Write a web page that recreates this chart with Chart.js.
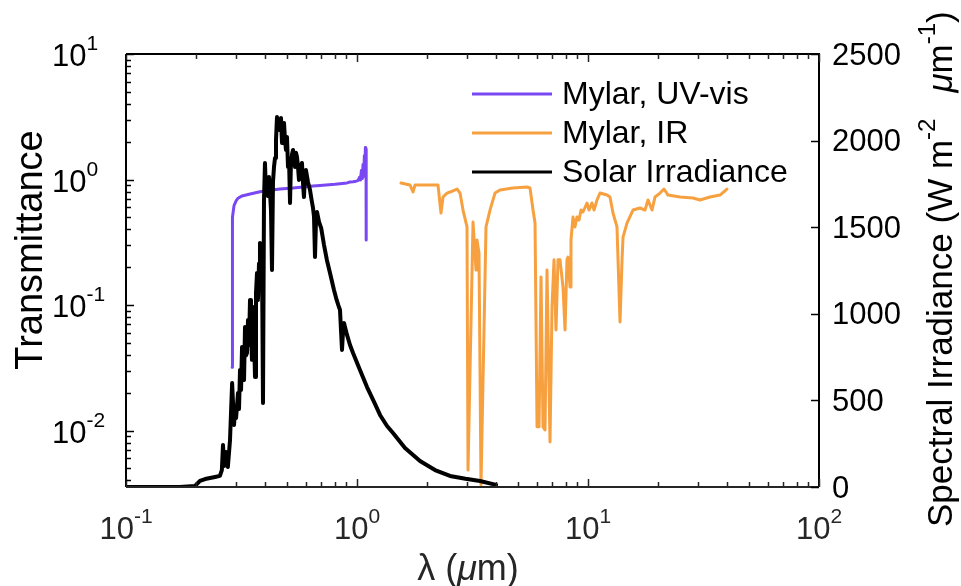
<!DOCTYPE html>
<html>
<head>
<meta charset="utf-8">
<script src="https://cdn.jsdelivr.net/npm/chart.js@4/dist/chart.umd.min.js"></script>
<style>
  html, body { margin: 0; padding: 0; background: #ffffff; }
  canvas { display: block; }
</style>
</head>
<body>
<canvas id="chart" width="961" height="586"></canvas>
<script>
// Solar spectral irradiance (W m^-2 um^-1) against wavelength (um)
const solarWavelength = [
  0.100, 0.127, 0.171, 0.199, 0.209, 0.220, 0.231, 0.243, 0.255, 0.260,
  0.263, 0.266, 0.271, 0.276, 0.282, 0.288, 0.2935, 0.2965, 0.2995, 0.3025,
  0.3054, 0.3085, 0.3116, 0.3148, 0.3179, 0.3211, 0.3243, 0.3275, 0.3307, 0.3340,
  0.3374, 0.3408, 0.3442, 0.3476, 0.3510, 0.3546, 0.3582, 0.3618, 0.3654, 0.3691,
  0.3727, 0.3765, 0.3802, 0.3840, 0.3879, 0.3918, 0.3957, 0.3996, 0.4036, 0.4077,
  0.4118, 0.4159, 0.4201, 0.4243, 0.4285, 0.4328, 0.4372, 0.4416, 0.4460, 0.4505,
  0.4550, 0.4597, 0.4642, 0.4688, 0.4735, 0.4783, 0.4831, 0.4880, 0.4928, 0.4977,
  0.5027, 0.5078, 0.5129, 0.5180, 0.5230, 0.5284, 0.5337, 0.5390, 0.5444, 0.5498,
  0.5553, 0.5608, 0.5663, 0.5777, 0.5835, 0.5893, 0.5952, 0.6011, 0.6136, 0.6261,
  0.6355, 0.6451, 0.6515, 0.6579, 0.6645, 0.6711, 0.6850, 0.6998, 0.7199, 0.7406,
  0.7641, 0.7950, 0.8163, 0.8300, 0.8442, 0.8530, 0.8612, 0.8700, 0.8784, 0.9053,
  0.9327, 0.9613, 1.030, 1.105, 1.185, 1.258, 1.349, 1.432, 1.614, 1.874,
  2.176, 2.527, 2.950, 3.408, 4.000
];
const solarIrradiance = [
  0, 0, 0, 6, 35, 46, 52, 58, 64, 98,
  243, 121, 202, 115, 271, 600, 358, 445, 398, 470,
  543, 450, 676, 560, 808, 700, 618, 924, 760, 774,
  964, 820, 1080, 900, 734, 1039, 880, 635, 1120, 1236,
  1080, 1290, 1409, 1200, 1311, 485, 1657, 1871, 1700, 1755,
  1680, 1790, 1700, 1599, 1253, 1760, 1848, 1900, 2004, 2136,
  2080, 2119, 2060, 2131, 1986, 2060, 2102, 2000, 1946, 2021,
  1848, 1900, 1640, 1888, 1920, 1946, 1880, 1848, 1930, 1905,
  1850, 1773, 1840, 1871, 1760, 1674, 1790, 1830, 1760, 1715,
  1660, 1611, 1560, 1328, 1540, 1588, 1530, 1495, 1397, 1311,
  1236, 1137, 1080, 1050, 1022, 900, 791, 900, 947, 878,
  820, 774, 676, 577, 491, 416, 352, 312, 225, 150,
  98, 64, 48, 35, 12
];

// Mylar film transmittance, UV-visible range
const uvWavelength = [
  0.2880, 0.2885, 0.2895, 0.2935, 0.3000, 0.3054, 0.3179, 0.3374, 0.3800, 0.4201,
  0.4642, 0.5284, 0.6011, 0.6451, 0.6918, 0.8030, 0.9053, 0.9327, 0.9613, 0.9900,
  1.0100, 1.0250, 1.0350, 1.0450, 1.0550, 1.0620, 1.0700, 1.0760, 1.0820, 1.0870,
  1.0910, 1.0940, 1.0960
];
const uvTransmittance = [
  0.032, 0.20, 0.50, 0.62, 0.68, 0.71, 0.74, 0.76, 0.80, 0.82,
  0.84, 0.855, 0.875, 0.887, 0.895, 0.915, 0.94, 0.955, 0.96, 0.97,
  0.98, 1.04, 0.99, 1.18, 1.02, 1.32, 1.06, 1.55, 1.12, 1.80,
  1.25, 1.75, 0.33
];

// Mylar film transmittance, infrared range
const irWavelength = [
  1.550, 1.696, 1.748, 1.783, 2.242, 2.310, 2.357, 2.453, 2.527, 2.710,
  2.793, 2.877, 2.994, 3.024, 3.179, 3.275, 3.307, 3.374, 3.442, 3.618,
  3.765, 3.957, 4.159, 4.735, 5.445, 5.611, 5.781, 5.898, 6.017, 6.138,
  6.261, 6.387, 6.515, 6.646, 6.848, 6.986, 7.127, 7.269, 7.416, 7.566,
  7.795, 7.953, 8.110, 8.190, 8.360, 8.440, 8.610, 8.780, 8.960, 9.140,
  9.330, 9.510, 9.900, 10.10, 10.40, 10.62, 10.94, 11.27, 12.09, 12.45,
  12.83, 13.35, 13.49, 13.76, 14.04, 14.18, 14.75, 15.66, 16.80, 17.65,
  18.19, 18.93, 19.50, 20.50, 21.33, 22.20, 25.02, 28.48, 30.53, 33.74,
  37.27, 39.96
];
const irTransmittance = [
  0.938, 0.904, 0.795, 0.904, 0.904, 0.541, 0.726, 0.780, 0.795, 0.840,
  0.780, 0.571, 0.419, 0.00484, 0.458, 0.190, 0.330, 0.260, 0.0037, 0.419,
  0.571, 0.780, 0.824, 0.856, 0.871, 0.856, 0.571, 0.450, 0.0107, 0.0107,
  0.167, 0.0107, 0.0101, 0.190, 0.0081, 0.0964, 0.229, 0.0633, 0.229, 0.229,
  0.139, 0.0633, 0.229, 0.241, 0.139, 0.330, 0.502, 0.419, 0.502, 0.475,
  0.571, 0.551, 0.650, 0.571, 0.650, 0.571, 0.687, 0.780, 0.752, 0.726,
  0.541, 0.419, 0.229, 0.0733, 0.229, 0.348, 0.450, 0.571, 0.593, 0.571,
  0.687, 0.571, 0.726, 0.780, 0.840, 0.752, 0.726, 0.713, 0.687, 0.726,
  0.752, 0.840
];

// Axis ticks
const xTickExponents = [-1, 0, 1, 2];
const leftTickExponents = [-2, -1, 0, 1];
const rightTickValues = [0, 500, 1000, 1500, 2000, 2500];

const seriesNames = ['Mylar, UV-vis', 'Mylar, IR', 'Solar Irradiance'];
const seriesColors = ['#7A48F3', '#F7A03F', '#000000'];

const FONT = '"Liberation Sans", Arial, Helvetica, sans-serif';
const TICK_PX = 31;
const SUP_PX = 21;
const LABEL_PX = 36;
const LEGEND_PX = 32;

const toPoints = (xs, ys) => xs.map((x, i) => ({ x: x, y: ys[i] }));

// Draws "base^exp" as two runs of text
function drawPower(ctx, base, exp, x, y, align, bigPx, smallPx, rise) {
  ctx.font = bigPx + 'px ' + FONT;
  const wb = ctx.measureText(base).width;
  ctx.font = smallPx + 'px ' + FONT;
  const we = ctx.measureText(exp).width;
  const total = wb + we;
  let x0 = x;
  if (align === 'center') x0 = x - total / 2;
  else if (align === 'right') x0 = x - total;
  ctx.textAlign = 'left';
  ctx.textBaseline = 'alphabetic';
  ctx.font = bigPx + 'px ' + FONT;
  ctx.fillText(base, x0, y);
  ctx.font = smallPx + 'px ' + FONT;
  ctx.fillText(exp, x0 + wb, y - rise);
}

// Draws a sequence of styled text runs left to right
function drawRuns(ctx, runs, x, y) {
  ctx.textAlign = 'left';
  ctx.textBaseline = 'alphabetic';
  let cx = x;
  runs.forEach(r => {
    if (r.gap) { cx += r.gap; return; }
    ctx.font = (r.italic ? 'italic ' : '') + r.px + 'px ' + FONT;
    ctx.fillText(r.text, cx, y - (r.rise || 0));
    cx += ctx.measureText(r.text).width;
  });
  return cx;
}
function runsWidth(ctx, runs) {
  let w = 0;
  runs.forEach(r => {
    if (r.gap) { w += r.gap; return; }
    ctx.font = (r.italic ? 'italic ' : '') + r.px + 'px ' + FONT;
    w += ctx.measureText(r.text).width;
  });
  return w;
}

const framePlugin = {
  id: 'frame',
  afterDatasetsDraw(chart) {
    const ctx = chart.ctx;
    const area = chart.chartArea;
    const xs = chart.scales.x, yl = chart.scales.yL, yr = chart.scales.yR;
    ctx.save();

    // box
    ctx.strokeStyle = '#000000';
    ctx.lineWidth = 2;
    ctx.beginPath();
    ctx.moveTo(area.left, area.top);
    ctx.lineTo(area.right, area.top);
    ctx.lineTo(area.right, area.bottom);
    ctx.stroke();
    ctx.beginPath();
    ctx.moveTo(area.left, area.top);
    ctx.lineTo(area.left, area.bottom);
    ctx.stroke();
    ctx.strokeStyle = '#262626';
    ctx.beginPath();
    ctx.moveTo(area.left, area.bottom);
    ctx.lineTo(area.right, area.bottom);
    ctx.stroke();

    // x ticks (bottom and top, inward)
    ctx.lineWidth = 1.5;
    ctx.strokeStyle = '#262626';
    for (let e = -1; e <= 2; e++) {
      for (let m = 1; m <= 9; m++) {
        const v = m * Math.pow(10, e);
        if (v > 100.0001) break;
        const px = Math.round(xs.getPixelForValue(v)) + 0.5;
        const len = m === 1 ? 8 : 5;
        ctx.beginPath();
        ctx.moveTo(px, area.bottom);
        ctx.lineTo(px, area.bottom - len);
        ctx.moveTo(px, area.top);
        ctx.lineTo(px, area.top + len);
        ctx.stroke();
      }
    }
    // left log ticks
    ctx.strokeStyle = '#000000';
    for (let e = -3; e <= 1; e++) {
      for (let m = 1; m <= 9; m++) {
        const v = m * Math.pow(10, e);
        if (v < yl.min || v > yl.max * 1.0001) continue;
        const py = Math.round(yl.getPixelForValue(v)) + 0.5;
        const len = m === 1 ? 8 : 5;
        ctx.beginPath();
        ctx.moveTo(area.left, py);
        ctx.lineTo(area.left + len, py);
        ctx.stroke();
      }
    }
    // right linear ticks
    rightTickValues.forEach(v => {
      const py = Math.round(yr.getPixelForValue(v)) + 0.5;
      ctx.beginPath();
      ctx.moveTo(area.right, py);
      ctx.lineTo(area.right - 8, py);
      ctx.stroke();
    });

    // x tick labels
    ctx.fillStyle = '#262626';
    xTickExponents.forEach(e => {
      const px = xs.getPixelForValue(Math.pow(10, e));
      drawPower(ctx, '10', String(e), px, area.bottom + 52, 'center', TICK_PX, SUP_PX, 16);
    });
    // left tick labels: the "10" sits in a fixed column, exponents run right
    ctx.fillStyle = '#000000';
    leftTickExponents.forEach(e => {
      const py = yl.getPixelForValue(Math.pow(10, e));
      drawPower(ctx, '10', String(e), 52, py + 12, 'left', TICK_PX, SUP_PX, 16);
    });
    // right tick labels
    ctx.font = TICK_PX + 'px ' + FONT;
    ctx.textAlign = 'left';
    ctx.textBaseline = 'middle';
    rightTickValues.forEach(v => {
      const py = yr.getPixelForValue(v);
      ctx.fillText(String(v), area.right + 13, py + 2);
    });

    // axis titles
    ctx.fillStyle = '#262626';
    const xRuns = [
      { text: '\u03BB (', px: LABEL_PX },
      { text: '\u03BC', px: LABEL_PX, italic: true },
      { text: 'm)', px: LABEL_PX }
    ];
    const xw = runsWidth(ctx, xRuns);
    drawRuns(ctx, xRuns, 468 - xw / 2, 580);

    ctx.fillStyle = '#000000';
    ctx.save();
    ctx.translate(42, 250);
    ctx.rotate(-Math.PI / 2);
    ctx.font = '38px ' + FONT;
    ctx.textAlign = 'center';
    ctx.textBaseline = 'alphabetic';
    ctx.fillText('Transmittance', 0, 0);
    ctx.restore();

    ctx.save();
    ctx.translate(952, 527);
    ctx.rotate(-Math.PI / 2);
    drawRuns(ctx, [
      { text: 'Spectral Irradiance (W m', px: 35 },
      { text: '-2', px: 24, rise: 17 },
      { gap: 26 },
      { text: '\u03BC', px: 35, italic: true },
      { text: 'm', px: 35 },
      { text: '-1', px: 24, rise: 17 },
      { text: ')', px: 35 }
    ], 0, 0);
    ctx.restore();

    // legend
    const legendRows = [94, 133, 172];
    ctx.lineWidth = 3;
    seriesNames.forEach((name, i) => {
      const y = legendRows[i];
      ctx.strokeStyle = seriesColors[i];
      ctx.beginPath();
      ctx.moveTo(472, y);
      ctx.lineTo(552, y);
      ctx.stroke();
      ctx.fillStyle = '#000000';
      ctx.font = LEGEND_PX + 'px ' + FONT;
      ctx.textAlign = 'left';
      ctx.textBaseline = 'middle';
      ctx.fillText(name, 562, y + 1);
    });

    ctx.restore();
  }
};

const lineStyle = (color, width) => ({
  borderColor: color,
  backgroundColor: color,
  borderWidth: width,
  pointRadius: 0,
  pointHoverRadius: 0,
  fill: false,
  tension: 0,
  borderJoinStyle: 'round',
  borderCapStyle: 'round'
});

new Chart(document.getElementById('chart'), {
  type: 'line',
  data: {
    datasets: [
      Object.assign({ label: seriesNames[2], data: toPoints(solarWavelength, solarIrradiance), yAxisID: 'yR' }, lineStyle(seriesColors[2], 4)),
      Object.assign({ label: seriesNames[0], data: toPoints(uvWavelength, uvTransmittance), yAxisID: 'yL' }, lineStyle(seriesColors[0], 3)),
      Object.assign({ label: seriesNames[1], data: toPoints(irWavelength, irTransmittance), yAxisID: 'yL' }, lineStyle(seriesColors[1], 3))
    ]
  },
  options: {
    responsive: false,
    animation: false,
    devicePixelRatio: 1,
    layout: { padding: { top: 54, left: 0, right: 0, bottom: 0 } },
    plugins: { legend: { display: false }, tooltip: { enabled: false } },
    scales: {
      x: {
        type: 'logarithmic', position: 'bottom', min: 0.1, max: 100,
        grid: { display: false }, border: { display: false }, ticks: { display: false },
        afterFit(s) { s.height = 99; }
      },
      yL: {
        type: 'logarithmic', position: 'left', min: 0.00355, max: 10,
        grid: { display: false }, border: { display: false }, ticks: { display: false },
        afterFit(s) { s.width = 126; }
      },
      yR: {
        type: 'linear', position: 'right', min: 0, max: 2500,
        grid: { display: false }, border: { display: false }, ticks: { display: false },
        afterFit(s) { s.width = 142; }
      }
    }
  },
  plugins: [framePlugin]
});
</script>
</body>
</html>
